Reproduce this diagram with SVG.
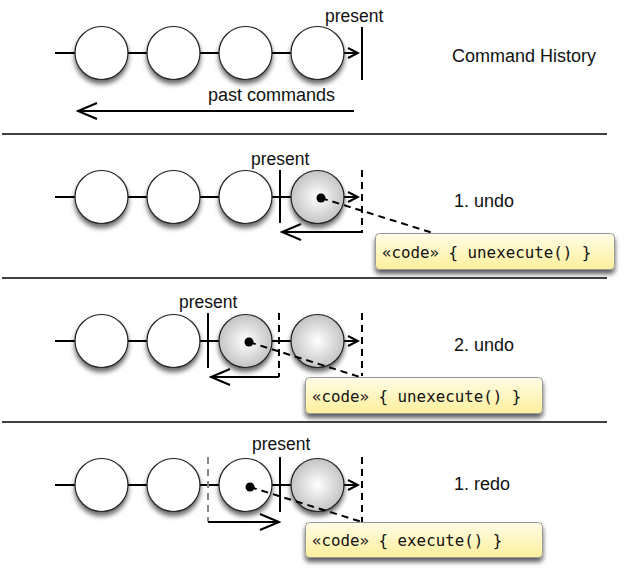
<svg xmlns="http://www.w3.org/2000/svg" width="625" height="573" viewBox="0 0 625 573">
<style>
  .lbl{font-family:"Liberation Sans",Arial,sans-serif;font-size:18px;fill:#111}
  .pr{font-family:"Liberation Sans",Arial,sans-serif;font-size:17.5px;fill:#111}
  .code{font-family:"DejaVu Sans Mono","Liberation Mono",monospace;font-size:15.8px;fill:#111}
  .ln{stroke:#000;stroke-width:2;fill:none}
  .dash{stroke:#000;stroke-width:2;fill:none;stroke-dasharray:7,5}
  .gdash{stroke:#888;stroke-width:2;fill:none;stroke-dasharray:7,5}
  .sep{stroke:#000;stroke-width:1.5}
  .cw{fill:#fff;stroke:#222;stroke-width:1.2;filter:url(#sh)}
  .cg{fill:url(#gg);stroke:#222;stroke-width:1.2;filter:url(#sh)}
  .note{fill:url(#ny);stroke:#999;stroke-width:1;filter:url(#nsh)}
  .arr{marker-end:url(#sa)}
  .big{marker-end:url(#ba)}
</style>
<defs>
  <radialGradient id="gg" cx="0.5" cy="0.5" r="0.5">
    <stop offset="0" stop-color="#ffffff"/>
    <stop offset="1" stop-color="#c4c4c4"/>
  </radialGradient>
  <linearGradient id="ny" x1="0" y1="0" x2="0" y2="1">
    <stop offset="0" stop-color="#fffce6"/>
    <stop offset="1" stop-color="#fdef9c"/>
  </linearGradient>
  <filter id="sh" x="-30%" y="-30%" width="160%" height="170%">
    <feGaussianBlur in="SourceAlpha" stdDeviation="2.5"/>
    <feOffset dx="0" dy="4" result="b"/>
    <feComponentTransfer><feFuncA type="linear" slope="0.6"/></feComponentTransfer>
    <feMerge><feMergeNode/><feMergeNode in="SourceGraphic"/></feMerge>
  </filter>
  <filter id="nsh" x="-10%" y="-30%" width="120%" height="180%">
    <feGaussianBlur in="SourceAlpha" stdDeviation="2.5"/>
    <feOffset dx="0" dy="4" result="b"/>
    <feComponentTransfer><feFuncA type="linear" slope="0.65"/></feComponentTransfer>
    <feMerge><feMergeNode/><feMergeNode in="SourceGraphic"/></feMerge>
  </filter>
  <marker id="sa" viewBox="-12 -7 14 14" markerWidth="14" markerHeight="14" refX="0" refY="0" orient="auto" markerUnits="userSpaceOnUse">
    <path d="M-10,-5 L0,0 L-10,5" fill="none" stroke="#000" stroke-width="2"/>
  </marker>
  <marker id="ba" viewBox="-22 -10 24 20" markerWidth="24" markerHeight="20" refX="0" refY="0" orient="auto" markerUnits="userSpaceOnUse">
    <path d="M-19,-8 L0,0 L-19,8" fill="none" stroke="#000" stroke-width="2"/>
  </marker>
</defs>

<g id="separators">
  <line class="sep" x1="2" y1="134" x2="607" y2="134"/>
  <line class="sep" x1="2" y1="278" x2="607" y2="278"/>
  <line class="sep" x1="2" y1="422" x2="607" y2="422"/>
</g>

<g id="connectors">
  <!-- row 1 -->
  <line class="ln arr" x1="55" y1="53" x2="358" y2="53"/>
  <line class="ln" x1="362" y1="27" x2="362" y2="80"/>
  <line class="ln big" x1="354" y1="111" x2="78" y2="111"/>
  <!-- row 2 -->
  <line class="ln arr" x1="55" y1="197" x2="358" y2="197"/>
  <line class="ln" x1="280" y1="170" x2="280" y2="223"/>
  <line class="dash" x1="362" y1="170" x2="362" y2="233"/>
  <line class="ln big" x1="362" y1="232" x2="282" y2="232"/>
  <!-- row 3 -->
  <line class="ln arr" x1="55" y1="341" x2="358" y2="341"/>
  <line class="ln" x1="208" y1="313" x2="208" y2="368"/>
  <line class="dash" x1="279" y1="313" x2="279" y2="377"/>
  <line class="dash" x1="362" y1="313" x2="362" y2="376"/>
  <line class="ln big" x1="279" y1="377" x2="211" y2="377"/>
  <!-- row 4 -->
  <line class="ln arr" x1="55" y1="485" x2="358" y2="485"/>
  <line class="gdash" x1="208" y1="457" x2="208" y2="522"/>
  <line class="ln" x1="280" y1="457" x2="280" y2="512"/>
  <line class="dash" x1="362" y1="457" x2="362" y2="522"/>
  <line class="ln big" x1="208" y1="522" x2="279" y2="522"/>
</g>

<g id="row1">
  <circle id="r1c1" class="cw" cx="101.5" cy="53" r="26.5"/>
  <circle id="r1c2" class="cw" cx="173.5" cy="53" r="26.5"/>
  <circle id="r1c3" class="cw" cx="245.5" cy="53" r="26.5"/>
  <circle id="r1c4" class="cw" cx="317.5" cy="53" r="26.5"/>
  <text class="pr" x="325" y="22">present</text>
  <text class="lbl" x="208" y="101">past commands</text>
  <text class="lbl" x="452" y="62">Command History</text>
</g>

<g id="row2">
  <circle id="r2c1" class="cw" cx="101.5" cy="197" r="26.5"/>
  <circle id="r2c2" class="cw" cx="173.5" cy="197" r="26.5"/>
  <circle id="r2c3" class="cw" cx="245.5" cy="197" r="26.5"/>
  <circle id="r2c4" class="cg" cx="317.5" cy="197" r="26.5"/>
  <text class="pr" x="251" y="165">present</text>
  <text class="lbl" x="454" y="207">1. undo</text>
  <g id="note1">
    <rect class="note" x="375.5" y="233.5" width="239" height="36" rx="4"/>
    <text class="code" x="382" y="258">«code» { unexecute() }</text>
  </g>
</g>

<g id="row3">
  <circle id="r3c1" class="cw" cx="101.5" cy="341" r="26.5"/>
  <circle id="r3c2" class="cw" cx="173.5" cy="341" r="26.5"/>
  <circle id="r3c3" class="cg" cx="245.5" cy="341" r="26.5"/>
  <circle id="r3c4" class="cg" cx="317.5" cy="341" r="26.5"/>
  <text class="pr" x="179" y="308">present</text>
  <text class="lbl" x="454" y="351">2. undo</text>
  <g id="note2">
    <rect class="note" x="305.5" y="377.5" width="237" height="36" rx="4"/>
    <text class="code" x="312" y="402">«code» { unexecute() }</text>
  </g>
</g>

<g id="row4">
  <circle id="r4c1" class="cw" cx="101.5" cy="485" r="26.5"/>
  <circle id="r4c2" class="cw" cx="173.5" cy="485" r="26.5"/>
  <circle id="r4c3" class="cw" cx="245.5" cy="485" r="26.5"/>
  <circle id="r4c4" class="cg" cx="317.5" cy="485" r="26.5"/>
  <text class="pr" x="252" y="450">present</text>
  <text class="lbl" x="454" y="490">1. redo</text>
  <g id="note3">
    <rect class="note" x="305.5" y="522.5" width="237" height="35" rx="4"/>
    <text class="code" x="312" y="546">«code» { execute() }</text>
  </g>
</g>

<g id="note-links">
  <line class="dash" x1="321" y1="198" x2="433" y2="233"/>
  <circle cx="321" cy="198" r="4.5" fill="#000"/>
  <line class="dash" x1="249" y1="342" x2="360" y2="377"/>
  <circle cx="249" cy="342" r="4.5" fill="#000"/>
  <line class="dash" x1="250" y1="487" x2="362" y2="522"/>
  <circle cx="250" cy="487" r="4.5" fill="#000"/>
</g>
</svg>
